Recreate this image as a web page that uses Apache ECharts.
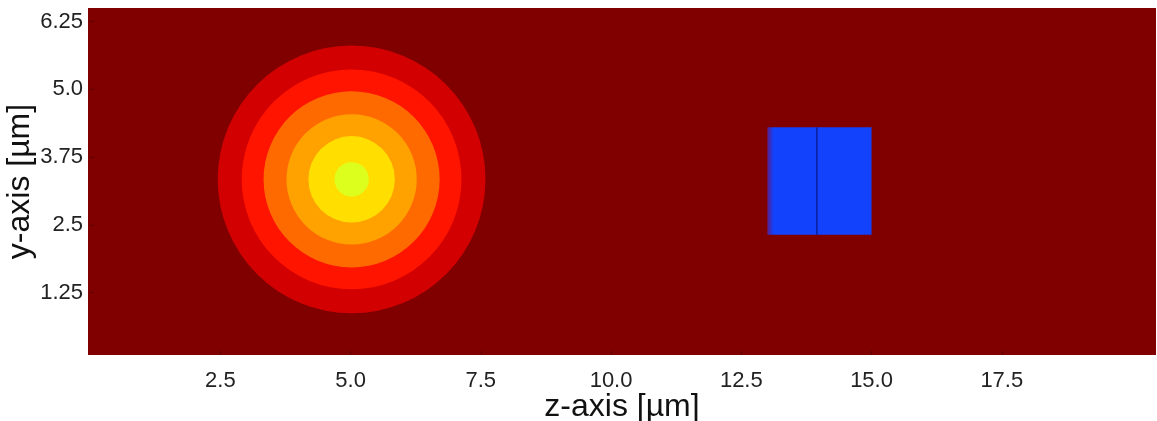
<!DOCTYPE html>
<html>
<head>
<meta charset="utf-8">
<script src="https://cdn.jsdelivr.net/npm/echarts@6/dist/echarts.min.js"></script>
<style>
  html, body { margin: 0; padding: 0; background: #ffffff; }
  #chart { width: 1157px; height: 421px; }
</style>
</head>
<body>
<div id="chart"></div>
<script>
// Axis ranges and tick labels (µm)
const zRange = [-0.04, 20.46];
const yRange = [0.1, 6.5];
const zTicks = [2.5, 5.0, 7.5, 10.0, 12.5, 15.0, 17.5];
const yTicks = [1.25, 2.5, 3.75, 5.0, 6.25];
const zTickLabels = ['2.5', '5.0', '7.5', '10.0', '12.5', '15.0', '17.5'];
const yTickLabels = ['1.25', '2.5', '3.75', '5.0', '6.25'];

// Beam spot: concentric contour levels, outermost first
const spotCenter = [5.02, 3.34];
const spotRadii = [2.57, 2.11, 1.69, 1.25, 0.83, 0.33];
const spotColors = ['#d20000', '#ff1400', '#ff6a00', '#ffa200', '#ffde00', '#dcff1e'];

// Scatterer block: z from..to, y from..to, inner boundary at z
const blockZ = [13.0, 15.0];
const blockY = [2.32, 4.30];
const blockSeamZ = 13.95;

const background = '#800000';
const font = 'Liberation Sans, Arial, Helvetica, sans-serif';

const spotData = spotRadii.map((r, i) => [spotCenter[0], spotCenter[1], r, i]);

const chart = echarts.init(document.getElementById('chart'), null, { renderer: 'canvas' });

chart.setOption({
  animation: false,
  backgroundColor: '#ffffff',
  grid: {
    left: 88, top: 8, right: 1, bottom: 66,
    outerBoundsMode: 'none', containLabel: false,
    show: true, backgroundColor: background, borderWidth: 0
  },
  xAxis: {
    type: 'value', min: zRange[0], max: zRange[1],
    name: 'z-axis [µm]', nameLocation: 'middle', nameGap: 36, nameMoveOverlap: false,
    nameTextStyle: { fontFamily: font, fontSize: 32, color: '#111' },
    axisLine: { show: false },
    splitLine: { show: false },
    axisTick: { show: true, inside: true, length: 4, customValues: zTicks,
                lineStyle: { color: '#5a0000' } },
    axisLabel: {
      customValues: zTicks, margin: 15,
      fontFamily: font, fontSize: 22, color: '#222',
      formatter: v => { const i = zTicks.indexOf(v); return i >= 0 ? zTickLabels[i] : ''; }
    }
  },
  yAxis: {
    type: 'value', min: yRange[0], max: yRange[1],
    name: 'y-axis [µm]', nameLocation: 'middle', nameGap: 52, nameRotate: 90, nameMoveOverlap: false,
    nameTextStyle: { fontFamily: font, fontSize: 32, color: '#111' },
    axisLine: { show: false },
    splitLine: { show: false },
    axisTick: { show: true, inside: true, length: 4, customValues: yTicks,
                lineStyle: { color: '#5a0000' } },
    axisLabel: {
      customValues: yTicks, margin: 5,
      fontFamily: font, fontSize: 22, color: '#222',
      formatter: v => { const i = yTicks.indexOf(v); return i >= 0 ? yTickLabels[i] : ''; }
    }
  },
  series: [
    {
      type: 'custom',
      coordinateSystem: 'cartesian2d',
      data: spotData,
      encode: { x: 0, y: 1 },
      renderItem: (params, api) => {
        const c = api.coord([api.value(0), api.value(1)]);
        const r = api.size([api.value(2), 0])[0];
        return {
          type: 'circle',
          shape: { cx: c[0], cy: c[1], r: r },
          style: { fill: spotColors[api.value(3)] }
        };
      }
    },
    {
      type: 'custom',
      coordinateSystem: 'cartesian2d',
      data: [[blockZ[0], blockY[0], blockZ[1], blockY[1], blockSeamZ]],
      encode: { x: [0, 2], y: [1, 3] },
      renderItem: (params, api) => {
        const p0 = api.coord([api.value(0), api.value(3)]);
        const p1 = api.coord([api.value(2), api.value(1)]);
        const s0 = api.coord([api.value(4), api.value(3)]);
        const s1 = api.coord([api.value(4), api.value(1)]);
        return {
          type: 'group',
          children: [
            {
              type: 'rect',
              shape: { x: p0[0], y: p0[1], width: p1[0] - p0[0], height: p1[1] - p0[1] },
              style: {
                fill: {
                  type: 'linear', x: 0, y: 0, x2: 1, y2: 0,
                  colorStops: [
                    { offset: 0, color: '#5a1c8c' },
                    { offset: 0.06, color: '#1242fb' },
                    { offset: 1, color: '#1242fb' }
                  ]
                }
              }
            },
            {
              type: 'line',
              shape: { x1: s0[0], y1: s0[1], x2: s1[0], y2: s1[1] },
              style: { stroke: '#0b1d9c', lineWidth: 1.5 }
            }
          ]
        };
      }
    }
  ]
});
</script>
</body>
</html>
